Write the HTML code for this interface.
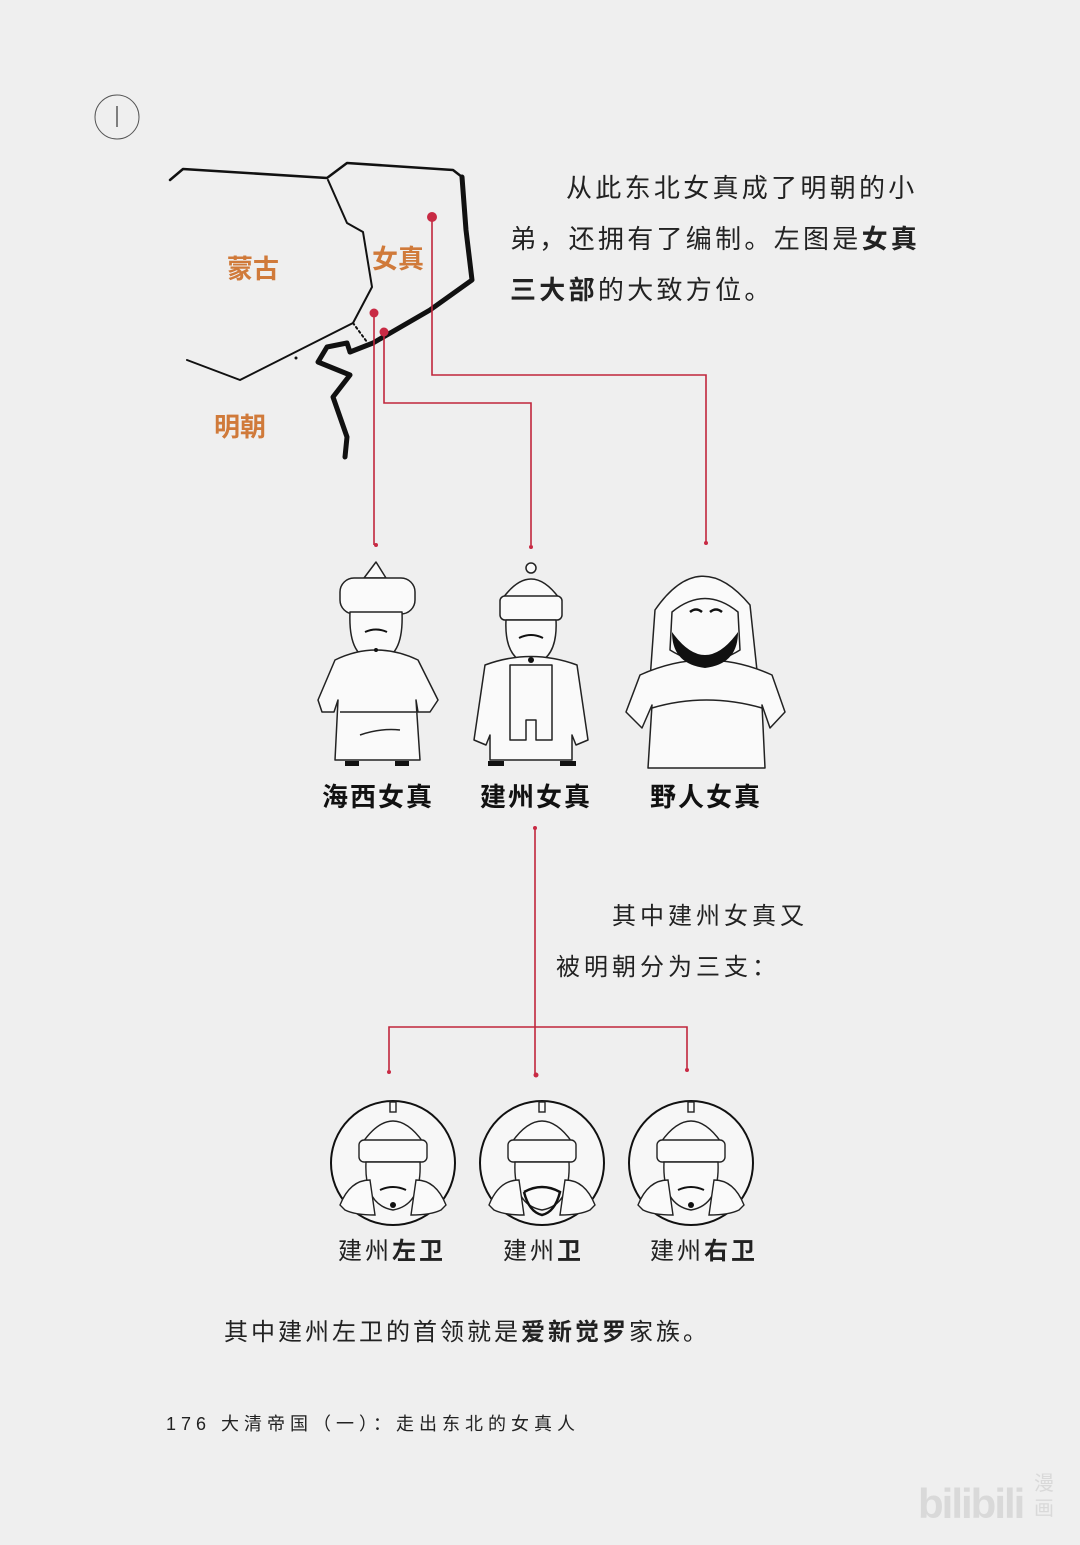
<!DOCTYPE html>
<html><head><meta charset="utf-8">
<style>
html,body{margin:0;padding:0;background:#efefef;}
svg{display:block;}
text{font-family:"Liberation Sans","Noto Sans CJK SC",sans-serif;}
</style></head>
<body>
<svg width="1080" height="1545" viewBox="0 0 1080 1545" xmlns="http://www.w3.org/2000/svg">
<rect width="1080" height="1545" fill="#efefef"/>

<!-- compass -->
<circle cx="117" cy="117" r="22" fill="none" stroke="#555" stroke-width="1"/>
<line x1="117" y1="106" x2="117" y2="127" stroke="#333" stroke-width="1.2"/>

<!-- map -->
<g fill="none" stroke="#111" stroke-linecap="round" stroke-linejoin="round">
<path d="M170,180 L183,169 L327,178 L347,163 L453,170 L462,177" stroke-width="2.5"/>
<path d="M328,180 L347,223 L363,232 L372,287 L353,323 L240,380 L187,360" stroke-width="2"/>
<path d="M462,177 L466,230 L472,280 L430,310 L373,343 L350,352" stroke-width="5"/>
<path d="M350,352 L347,343 L327,347 L318,362 L350,375 L333,397 L347,437 L345,457" stroke-width="5"/>
<path d="M353,323 L367,342" stroke-width="2" stroke-dasharray="2,3"/>
</g>
<circle cx="296" cy="358" r="1.5" fill="#111"/>

<g font-weight="bold" fill="#d07a3a" font-size="26">
<text x="227" y="278">蒙古</text>
<text x="372" y="268">女真</text>
<text x="214" y="436">明朝</text>
</g>

<!-- red connectors -->
<g stroke="#c0263c" stroke-width="1.6" fill="none">
<path d="M432,217 V375 H706 V543"/>
<path d="M384,332 V403 H531 V545"/>
<path d="M374,313 V545"/>
<path d="M535,828 V1075"/>
<path d="M389,1070 V1027 H687 V1070"/>
</g>
<g fill="#c82a44">
<circle cx="432" cy="217" r="5"/>
<circle cx="374" cy="313" r="4.5"/>
<circle cx="384" cy="332" r="4.5"/>
<circle cx="376" cy="545" r="2"/><circle cx="531" cy="547" r="2"/><circle cx="706" cy="543" r="2"/>
<circle cx="535" cy="828" r="2"/><circle cx="536" cy="1075" r="2.5"/>
<circle cx="389" cy="1072" r="2"/><circle cx="687" cy="1070" r="2"/>
</g>

<!-- top paragraph -->
<g font-size="26" fill="#222" letter-spacing="3.3">
<text x="566" y="197">从此东北女真成了明朝的小</text>
<text x="510" y="248">弟，还拥有了编制。左图是<tspan font-weight="bold">女真</tspan></text>
<text x="510" y="299"><tspan font-weight="bold">三大部</tspan>的大致方位。</text>
</g>

<!-- figures -->
<g fill="#fafafa" stroke="#222" stroke-width="1.5" stroke-linejoin="round">
 <!-- Haixi -->
 <path d="M376,562 L364,578 L386,578 Z"/>
 <rect x="340" y="578" width="75" height="36" rx="14"/>
 <path d="M350,612 Q348,660 376,660 Q404,660 402,612 Z"/>
 <path d="M335,660 Q376,640 418,660 L438,700 L430,712 L418,712 L416,700 L420,760 L335,760 L338,700 L334,712 L322,712 L318,700 Z"/>
 <path d="M340,712 L416,712"/>
 <path d="M360,735 Q380,728 400,730" fill="none"/>
 <!-- Jianzhou -->
 <circle cx="531" cy="568" r="5"/>
 <path d="M503,598 Q531,560 559,598 Z"/>
 <rect x="500" y="596" width="62" height="24" rx="5"/>
 <path d="M506,620 Q504,660 531,665 Q558,660 556,620 Z"/>
 <path d="M485,665 Q531,648 577,665 L588,740 L576,745 L572,735 L572,760 L490,760 L490,735 L486,745 L474,740 Z" />
 <path d="M510,665 L552,665 L552,740 L536,740 L536,720 L526,720 L526,740 L510,740 Z"/>
 <!-- Yeren -->
 <path d="M655,610 Q700,545 750,605 L758,680 L650,680 Z"/>
 <path d="M672,612 Q705,585 738,612 L740,650 Q705,672 670,650 Z"/>
 <path d="M640,675 Q706,645 772,675 L785,712 L770,728 L762,705 L765,768 L648,768 L652,705 L642,728 L626,712 Z"/>
 <path d="M652,708 Q706,692 762,708" fill="none"/>
</g>
<path d="M672,632 Q705,678 738,632 Q738,664 705,668 Q672,664 672,632 Z" fill="#111"/>
<g fill="#111">
<rect x="345" y="761" width="14" height="5"/><rect x="395" y="761" width="14" height="5"/>
<rect x="488" y="761" width="16" height="5"/><rect x="560" y="761" width="16" height="5"/>
<path d="M365,632 Q376,627 387,632" stroke="#111" stroke-width="2" fill="none"/>
<path d="M519,638 Q531,632 543,638" stroke="#111" stroke-width="2" fill="none"/>
<path d="M690,612 Q696,607 702,612 M710,612 Q716,607 722,612" stroke="#111" stroke-width="2.5" fill="none"/>
<circle cx="376" cy="650" r="2"/><circle cx="531" cy="660" r="3"/>
</g>

<g font-size="26" font-weight="bold" fill="#111" letter-spacing="2">
<text x="322" y="806">海西女真</text>
<text x="480" y="806">建州女真</text>
<text x="650" y="806">野人女真</text>
</g>

<g font-size="24" fill="#222" letter-spacing="4">
<text x="612" y="924">其中建州女真又</text>
<text x="556" y="975">被明朝分为三支：</text>
</g>

<!-- circles -->
<g id="c1">
<circle cx="393" cy="1163" r="62" fill="#f7f7f7" stroke="#111" stroke-width="2"/>
<g fill="#fafafa" stroke="#222" stroke-width="1.4">
<rect x="390" y="1102" width="6" height="10"/>
<path d="M363,1142 Q393,1100 423,1142 Z"/>
<rect x="359" y="1140" width="68" height="22" rx="5"/>
<path d="M366,1162 Q364,1205 393,1210 Q422,1205 420,1162 Z"/>
<path d="M340,1205 Q350,1180 370,1180 L375,1215 Q355,1215 345,1210 Z"/>
<path d="M446,1205 Q436,1180 416,1180 L411,1215 Q431,1215 441,1210 Z"/>
</g>
</g>
<use href="#c1" x="149"/>
<use href="#c1" x="298"/>
<g fill="#111">
<path d="M380,1190 Q393,1184 406,1190" stroke="#111" stroke-width="2" fill="none"/>
<circle cx="393" cy="1205" r="3"/>
<path d="M524,1192 Q542,1182 560,1192 Q555,1212 542,1215 Q529,1212 524,1192" stroke="#111" stroke-width="2.5" fill="none"/>
<path d="M678,1190 Q691,1184 704,1190" stroke="#111" stroke-width="2" fill="none"/>
<circle cx="691" cy="1205" r="3"/>
</g>

<g font-size="24" fill="#222" letter-spacing="3">
<text x="338" y="1259">建州<tspan font-weight="bold">左卫</tspan></text>
<text x="503" y="1259">建州<tspan font-weight="bold">卫</tspan></text>
<text x="650" y="1259">建州<tspan font-weight="bold">右卫</tspan></text>
</g>

<text x="224" y="1340" font-size="24" fill="#222" letter-spacing="3">其中建州左卫的首领就是<tspan font-weight="bold">爱新觉罗</tspan>家族。</text>

<text x="166" y="1430" font-size="18" fill="#222" letter-spacing="5">176 大清帝国（一）：走出东北的女真人</text>

<text x="918" y="1518" font-size="42" fill="#d9d9d9" font-weight="bold" letter-spacing="-2">bilibili</text>
<text x="1034" y="1490" font-size="20" fill="#d9d9d9">漫</text>
<text x="1034" y="1515" font-size="20" fill="#d9d9d9">画</text>
</svg>
</body></html>
